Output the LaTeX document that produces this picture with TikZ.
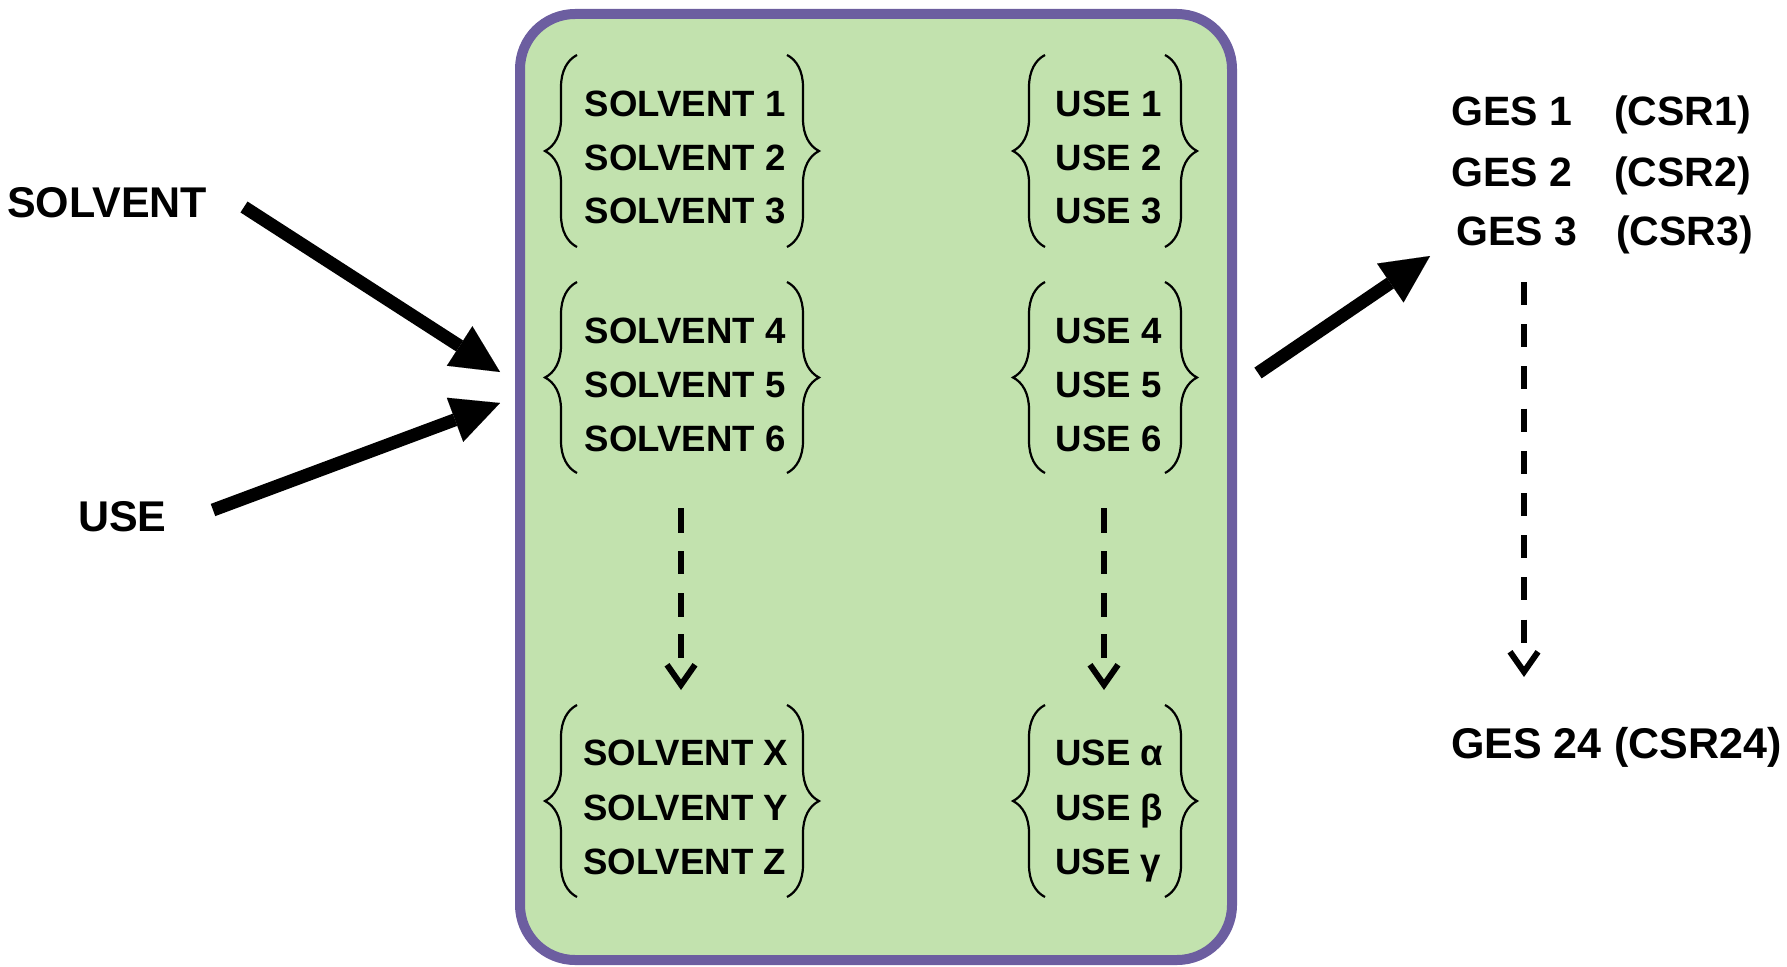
\documentclass[tikz,border=0pt]{standalone}
\usepackage{fontspec}
\setmainfont{Liberation Sans}
\usetikzlibrary{arrows.meta,decorations.pathreplacing}
\definecolor{boxgreen}{RGB}{194,226,174}
\definecolor{boxpurple}{RGB}{108,94,160}
\begin{document}
\begin{tikzpicture}[x=1pt,y=-1pt,
  panel/.style={draw=boxpurple, fill=boxgreen, line width=10pt, rounded corners=55pt,
    minimum width=712pt, minimum height=946pt, inner sep=0pt},
  item/.style={anchor=base west, inner sep=0pt, font=\fontsize{36.6}{36.6}\selectfont\bfseries},
  ges/.style={anchor=base west, inner sep=0pt, font=\fontsize{41}{41}\selectfont\bfseries},
  gesbig/.style={anchor=base west, inner sep=0pt, font=\fontsize{43}{43}\selectfont\bfseries},
  side/.style={anchor=base west, inner sep=0pt, font=\fontsize{43}{43}\selectfont\bfseries},
  bracestyle/.style={decorate, decoration={brace, amplitude=32pt}, line width=2.2pt},
  bigarrow/.style={line width=13pt, -{Triangle[length=48pt,width=47pt,line width=0.01pt]}},
  dasharrow/.style={line width=6pt, -{Straight Barb[length=20pt,width=28pt]}}]
\useasboundingbox (0,0) rectangle (1787,966);

% panel
\node[panel] (panel) at (876,487) {};

% left column texts
\node[item] (s1) at (584.5,116) {SOLVENT 1};
\node[item] (s2) at (584.5,170) {SOLVENT 2};
\node[item] (s3) at (584.5,223) {SOLVENT 3};
\node[item] (s4) at (584.5,343) {SOLVENT 4};
\node[item] (s5) at (584.5,397) {SOLVENT 5};
\node[item] (s6) at (584.5,451) {SOLVENT 6};
\node[item] (s7) at (583,765) {SOLVENT X};
\node[item] (s8) at (583,820) {SOLVENT Y};
\node[item] (s9) at (583,874) {SOLVENT Z};

% right column texts
\node[item] (u1) at (1055.5,116) {USE 1};
\node[item] (u2) at (1055.5,170) {USE 2};
\node[item] (u3) at (1055.5,223) {USE 3};
\node[item] (u4) at (1055.5,343) {USE 4};
\node[item] (u5) at (1055.5,397) {USE 5};
\node[item] (u6) at (1055.5,451) {USE 6};
\node[item] (u7) at (1055,765) {USE α};
\node[item] (u8) at (1055,820) {USE β};
\node[item] (u9) at (1055,874) {USE γ};

% braces
\foreach \ya/\yb in {55/247, 282/473, 705/897}{
  \draw[bracestyle] (577,\yb) -- (577,\ya);
  \draw[bracestyle] (787,\ya) -- (787,\yb);
  \draw[bracestyle] (1045,\yb) -- (1045,\ya);
  \draw[bracestyle] (1165,\ya) -- (1165,\yb);
}

% dashed arrows in panel
\coordinate (ld1) at (681,508);
\coordinate (ld2) at (681,690);
\coordinate (rd1) at (1104,508);
\coordinate (rd2) at (1104,690);
\draw[dasharrow, dash pattern=on 25pt off 18pt on 23pt off 19pt on 24pt off 17pt on 24pt off 300pt] (ld1) -- (ld2);
\draw[dasharrow, dash pattern=on 25pt off 18pt on 23pt off 19pt on 24pt off 17pt on 24pt off 300pt] (rd1) -- (rd2);

% left labels
\node[side] (lsolv) at (7,217) {SOLVENT};
\node[side] (luse) at (78,531) {USE};

% big arrows
\coordinate (a1s) at (244,207);
\coordinate (a1e) at (500,372);
\coordinate (a2s) at (213,510);
\coordinate (a2e) at (500,403);
\coordinate (a3s) at (1258,373);
\coordinate (a3e) at (1430,256);
\draw[bigarrow] (a1s) -- (a1e);
\draw[bigarrow] (a2s) -- (a2e);
\draw[bigarrow] (a3s) -- (a3e);

% right texts
\node[ges] (g1) at (1451,125) {GES 1};
\node[ges] (c1) at (1614,125) {(CSR1)};
\node[ges] (g2) at (1451,186) {GES 2};
\node[ges] (c2) at (1614,186) {(CSR2)};
\node[ges] (g3) at (1456,245) {GES 3};
\node[ges] (c3) at (1616,245) {(CSR3)};
\node[gesbig] (g24) at (1451,758) {GES 24};
\node[gesbig] (c24) at (1614,758) {(CSR24)};

% right dashed arrow
\coordinate (gd1) at (1524,282);
\coordinate (gd2) at (1524,677);
\draw[dasharrow, dash pattern=on 23pt off 19.2pt on 23pt off 19.2pt on 23pt off 19.2pt on 23pt off 19.2pt on 23pt off 19.2pt on 23pt off 19.2pt on 23pt off 19.2pt on 23pt off 19.2pt on 23pt off 300pt] (gd1) -- (gd2);
\end{tikzpicture}
\end{document}
